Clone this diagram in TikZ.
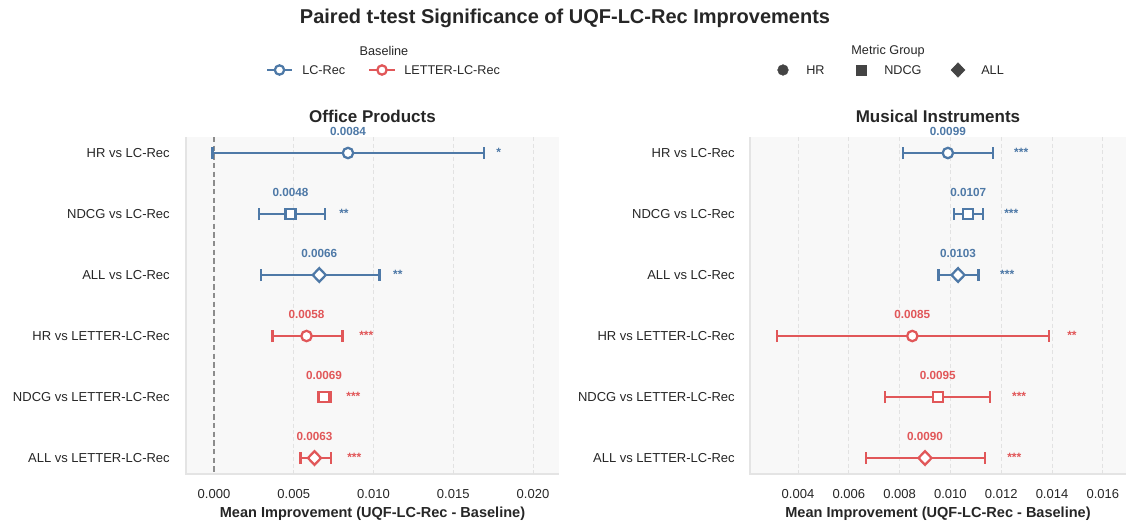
\documentclass[tikz,border=0pt]{standalone}
\usepackage{fontspec}
\setmainfont{Liberation Sans}
\usepackage{tikz}
\usetikzlibrary{arrows.meta}
\usetikzlibrary{shapes.geometric}

\definecolor{lcblue}{HTML}{4E79A7}
\definecolor{letred}{HTML}{E15759}
\definecolor{txt}{HTML}{262626}
\definecolor{panelbg}{HTML}{F8F8F8}
\definecolor{spine}{HTML}{E4E4E4}
\definecolor{gridc}{HTML}{E2E2E2}
\definecolor{zeroc}{HTML}{8C8C8C}
\definecolor{mkgray}{HTML}{444444}

\tikzset{
    every node/.style={text=txt},
    figtitle/.style={font=\bfseries\fontsize{15}{18}\selectfont},
    paneltitle/.style={font=\bfseries\fontsize{12.75}{15}\selectfont},
    axislab/.style={font=\bfseries\fontsize{10.9}{13}\selectfont},
    rowlab/.style={anchor=east, inner sep=0pt, font=\fontsize{9.75}{11}\selectfont},
    ticklab/.style={font=\fontsize{9.75}{11}\selectfont},
    leglab/.style={anchor=west, inner sep=0pt, font=\fontsize{9.5}{11}\selectfont},
    vallab/.style={font=\bfseries\fontsize{8.8}{10}\selectfont},
    starlab/.style={anchor=base west, inner sep=0pt, font=\bfseries\fontsize{9}{10}\selectfont},
    gridline/.style={draw=gridc, line width=0.6pt, dash pattern=on 3pt off 2pt},
    zeroline/.style={draw=zeroc, line width=1.1pt, dash pattern=on 4pt off 2.5pt},
    ebar/.style={line width=1.8pt, {Bar[width=9pt]}-{Bar[width=9pt]}},
    mk/.style={draw, fill=white, line width=1.7pt, inner sep=0pt},
    circ/.style={mk, circle, minimum size=7.8pt},
    sqr/.style={mk, rectangle, minimum size=7.5pt},
    dia/.style={mk, diamond, minimum width=10.5pt, minimum height=11pt},
    legmk/.style={fill=mkgray, draw=mkgray, inner sep=0pt}
}

\begin{document}
\begin{tikzpicture}[x=0.75pt, y=-0.75pt]
\useasboundingbox (0,0) rectangle (1126,525);

% title and legends
\node[figtitle] (title) at (565,18) {Paired t-test Significance of UQF-LC-Rec Improvements};

\node[leglab, anchor=center] (basetitle) at (384,51) {Baseline};
\coordinate (lgA1) at (267,70); \coordinate (lgA2) at (292,70);
\draw[lcblue, line width=1.8pt] (lgA1) -- (lgA2);
\node[mk, circle, minimum size=7pt, draw=lcblue] (lgAm) at (279.5,70) {};
\node[leglab] (lgAt) at (302,70) {LC-Rec};
\coordinate (lgB1) at (369,70); \coordinate (lgB2) at (395,70);
\draw[letred, line width=1.8pt] (lgB1) -- (lgB2);
\node[mk, circle, minimum size=7pt, draw=letred] (lgBm) at (382,70) {};
\node[leglab] (lgBt) at (404,70) {LETTER-LC-Rec};

\node[leglab, anchor=center] (mgtitle) at (888,51) {Metric Group};
\node[legmk, circle, minimum size=8pt] (lgHR) at (783,70) {};
\node[leglab] (lgHRt) at (806,70) {HR};
\node[legmk, rectangle, minimum size=7.5pt] (lgND) at (861,70) {};
\node[legmk, diamond, minimum width=10.5pt, minimum height=11pt] (lgAL) at (958,70) {};
\node[leglab] (lgNDt) at (884,70) {NDCG};
\node[leglab] (lgALt) at (981,70) {ALL};

% panel frames
\fill[panelbg] (186,137) rectangle (559,474);
\fill[panelbg] (750,137) rectangle (1126,474);
\draw[spine, line width=1.5pt] (186,137) -- (186,474) -- (559,474);
\draw[spine, line width=1.5pt] (750,137) -- (750,474) -- (1126,474);

\node[paneltitle] (optitle) at (372.5,116) {Office Products};
\node[paneltitle] (mititle) at (938,116) {Musical Instruments};
\node[axislab] (opaxis) at (372.5,514) {Mean Improvement (UQF-LC-Rec - Baseline)};
\node[axislab] (miaxis) at (938,514) {Mean Improvement (UQF-LC-Rec - Baseline)};

% row labels
\node[rowlab] (opr1) at (170,153) {HR vs LC-Rec};
\node[rowlab] (opr2) at (170,214) {NDCG vs LC-Rec};
\node[rowlab] (opr3) at (170,275) {ALL vs LC-Rec};
\node[rowlab] (opr4) at (170,336) {HR vs LETTER-LC-Rec};
\node[rowlab] (opr5) at (170,397) {NDCG vs LETTER-LC-Rec};
\node[rowlab] (opr6) at (170,458) {ALL vs LETTER-LC-Rec};
\node[rowlab] (mir1) at (735,153) {HR vs LC-Rec};
\node[rowlab] (mir2) at (735,214) {NDCG vs LC-Rec};
\node[rowlab] (mir3) at (735,275) {ALL vs LC-Rec};
\node[rowlab] (mir4) at (735,336) {HR vs LETTER-LC-Rec};
\node[rowlab] (mir5) at (735,397) {NDCG vs LETTER-LC-Rec};
\node[rowlab] (mir6) at (735,458) {ALL vs LETTER-LC-Rec};

% Office Products (x unit = 0.001)
\begin{scope}[xshift=160.5pt, x=11.9625pt]
    \foreach \u in {5,10,15,20} \draw[gridline] (\u,137) -- (\u,474);
    \draw[zeroline] (0,137) -- (0,474);
    \node[ticklab] (opt0) at (0,494) {0.000};
    \node[ticklab] (opt5) at (5,494) {0.005};
    \node[ticklab] (opt10) at (10,494) {0.010};
    \node[ticklab] (opt15) at (15,494) {0.015};
    \node[ticklab] (opt20) at (20,494) {0.020};

    \coordinate (op1lo) at (-0.16,153); \coordinate (op1hi) at (16.99,153);
    \draw[ebar, lcblue] (op1lo) -- (op1hi);
    \node[circ, draw=lcblue] (op1) at (8.4,153) {};
    \node[vallab, text=lcblue] (op1v) at (8.4,131) {0.0084};
    \node[starlab, text=lcblue] (op1s) at (17.68,156) {*};

    \coordinate (op2lo) at (2.76,214); \coordinate (op2hi) at (7.02,214);
    \draw[ebar, lcblue] (op2lo) -- (op2hi);
    \node[sqr, draw=lcblue] (op2) at (4.8,214) {};
    \node[vallab, text=lcblue] (op2v) at (4.8,192) {0.0048};
    \node[starlab, text=lcblue] (op2s) at (7.84,217) {**};

    \coordinate (op3lo) at (2.88,275); \coordinate (op3hi) at (10.45,275);
    \draw[ebar, lcblue] (op3lo) -- (op3hi);
    \node[dia, draw=lcblue] (op3) at (6.6,275) {};
    \node[vallab, text=lcblue] (op3v) at (6.6,253) {0.0066};
    \node[starlab, text=lcblue] (op3s) at (11.22,278) {**};

    \coordinate (op4lo) at (3.59,336); \coordinate (op4hi) at (8.13,336);
    \draw[ebar, letred] (op4lo) -- (op4hi);
    \node[circ, draw=letred] (op4) at (5.8,336) {};
    \node[vallab, text=letred] (op4v) at (5.8,314) {0.0058};
    \node[starlab, text=letred] (op4s) at (9.09,339) {***};

    \coordinate (op5lo) at (6.46,397); \coordinate (op5hi) at (7.40,397);
    \draw[ebar, letred] (op5lo) -- (op5hi);
    \node[sqr, draw=letred] (op5) at (6.9,397) {};
    \node[vallab, text=letred] (op5v) at (6.9,375) {0.0069};
    \node[starlab, text=letred] (op5s) at (8.28,400) {***};

    \coordinate (op6lo) at (5.34,458); \coordinate (op6hi) at (7.40,458);
    \draw[ebar, letred] (op6lo) -- (op6hi);
    \node[dia, draw=letred] (op6) at (6.3,458) {};
    \node[vallab, text=letred] (op6v) at (6.3,436) {0.0063};
    \node[starlab, text=letred] (op6s) at (8.34,461) {***};
\end{scope}

% Musical Instruments (x unit = 0.001)
\begin{scope}[xshift=522.3pt, x=19.05pt]
    \foreach \u in {4,6,...,16} \draw[gridline] (\u,137) -- (\u,474);
    \node[ticklab] (mit4) at (4,494) {0.004};
    \node[ticklab] (mit6) at (6,494) {0.006};
    \node[ticklab] (mit8) at (8,494) {0.008};
    \node[ticklab] (mit10) at (10,494) {0.010};
    \node[ticklab] (mit12) at (12,494) {0.012};
    \node[ticklab] (mit14) at (14,494) {0.014};
    \node[ticklab] (mit16) at (16,494) {0.016};

    \coordinate (mi1lo) at (8.09,153); \coordinate (mi1hi) at (11.72,153);
    \draw[ebar, lcblue] (mi1lo) -- (mi1hi);
    \node[circ, draw=lcblue] (mi1) at (9.9,153) {};
    \node[vallab, text=lcblue] (mi1v) at (9.9,131) {0.0099};
    \node[starlab, text=lcblue] (mi1s) at (12.50,156) {***};

    \coordinate (mi2lo) at (10.10,214); \coordinate (mi2hi) at (11.32,214);
    \draw[ebar, lcblue] (mi2lo) -- (mi2hi);
    \node[sqr, draw=lcblue] (mi2) at (10.7,214) {};
    \node[vallab, text=lcblue] (mi2v) at (10.7,192) {0.0107};
    \node[starlab, text=lcblue] (mi2s) at (12.11,217) {***};

    \coordinate (mi3lo) at (9.48,275); \coordinate (mi3hi) at (11.15,275);
    \draw[ebar, lcblue] (mi3lo) -- (mi3hi);
    \node[dia, draw=lcblue] (mi3) at (10.3,275) {};
    \node[vallab, text=lcblue] (mi3v) at (10.3,253) {0.0103};
    \node[starlab, text=lcblue] (mi3s) at (11.95,278) {***};

    \coordinate (mi4lo) at (3.13,336); \coordinate (mi4hi) at (13.92,336);
    \draw[ebar, letred] (mi4lo) -- (mi4hi);
    \node[circ, draw=letred] (mi4) at (8.5,336) {};
    \node[vallab, text=letred] (mi4v) at (8.5,314) {0.0085};
    \node[starlab, text=letred] (mi4s) at (14.59,339) {**};

    \coordinate (mi5lo) at (7.38,397); \coordinate (mi5hi) at (11.60,397);
    \draw[ebar, letred] (mi5lo) -- (mi5hi);
    \node[sqr, draw=letred] (mi5) at (9.5,397) {};
    \node[vallab, text=letred] (mi5v) at (9.5,375) {0.0095};
    \node[starlab, text=letred] (mi5s) at (12.42,400) {***};

    \coordinate (mi6lo) at (6.64,458); \coordinate (mi6hi) at (11.40,458);
    \draw[ebar, letred] (mi6lo) -- (mi6hi);
    \node[dia, draw=letred] (mi6) at (9.0,458) {};
    \node[vallab, text=letred] (mi6v) at (9.0,436) {0.0090};
    \node[starlab, text=letred] (mi6s) at (12.23,461) {***};
\end{scope}

\end{tikzpicture}
\end{document}
